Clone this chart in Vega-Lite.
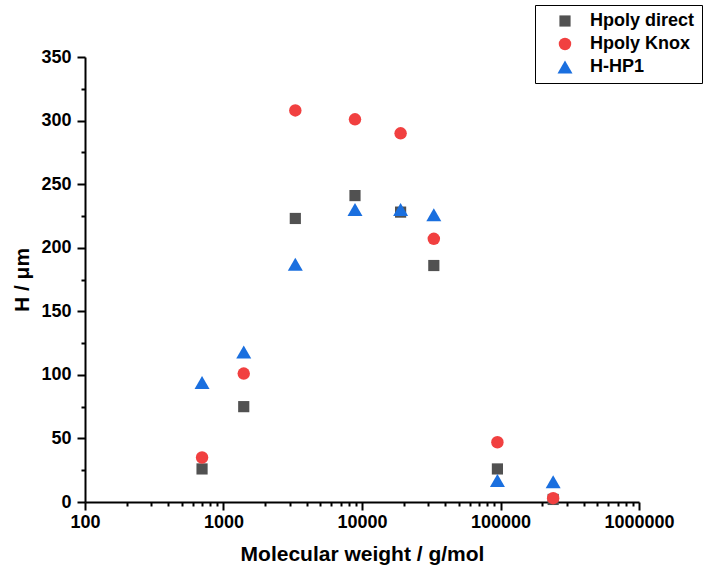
{
  "$schema": "https://vega.github.io/schema/vega-lite/v6.json",
  "width": 554,
  "height": 445,
  "autosize": {"type": "none"},
  "padding": {"left": 85, "top": 57, "right": 68, "bottom": 78},
  "background": "white",
  "data": {
    "values": [
      {"series": "Hpoly direct", "mw": 700, "H": 26},
      {"series": "Hpoly direct", "mw": 1400, "H": 75},
      {"series": "Hpoly direct", "mw": 3300, "H": 223},
      {"series": "Hpoly direct", "mw": 8900, "H": 241},
      {"series": "Hpoly direct", "mw": 19000, "H": 228},
      {"series": "Hpoly direct", "mw": 33000, "H": 186},
      {"series": "Hpoly direct", "mw": 95000, "H": 26},
      {"series": "Hpoly direct", "mw": 240000, "H": 2},
      {"series": "Hpoly Knox", "mw": 700, "H": 35},
      {"series": "Hpoly Knox", "mw": 1400, "H": 101},
      {"series": "Hpoly Knox", "mw": 3300, "H": 308},
      {"series": "Hpoly Knox", "mw": 8900, "H": 301},
      {"series": "Hpoly Knox", "mw": 19000, "H": 290},
      {"series": "Hpoly Knox", "mw": 33000, "H": 207},
      {"series": "Hpoly Knox", "mw": 95000, "H": 47},
      {"series": "Hpoly Knox", "mw": 240000, "H": 3},
      {"series": "H-HP1", "mw": 700, "H": 94},
      {"series": "H-HP1", "mw": 1400, "H": 118},
      {"series": "H-HP1", "mw": 3300, "H": 187},
      {"series": "H-HP1", "mw": 8900, "H": 230},
      {"series": "H-HP1", "mw": 19000, "H": 230},
      {"series": "H-HP1", "mw": 33000, "H": 226},
      {"series": "H-HP1", "mw": 95000, "H": 17},
      {"series": "H-HP1", "mw": 240000, "H": 16}
    ]
  },
  "mark": {"type": "point", "filled": true, "opacity": 1, "strokeWidth": 0},
  "encoding": {
    "x": {
      "field": "mw",
      "type": "quantitative",
      "title": "Molecular weight / g/mol",
      "scale": {"type": "log", "domain": [100, 1000000], "nice": false},
      "axis": {
        "values": [100, 200, 300, 400, 500, 600, 700, 800, 900,
                   1000, 2000, 3000, 4000, 5000, 6000, 7000, 8000, 9000,
                   10000, 20000, 30000, 40000, 50000, 60000, 70000, 80000, 90000,
                   100000, 200000, 300000, 400000, 500000, 600000, 700000, 800000, 900000,
                   1000000],
        "labelExpr": "indexof([100, 1000, 10000, 100000, 1000000], datum.value) >= 0 ? format(datum.value, 'd') : ''",
        "tickSize": {"condition": {"test": "indexof([100, 1000, 10000, 100000, 1000000], datum.value) >= 0", "value": 8}, "value": 4},
        "labelPadding": 3,
        "titlePadding": 12
      }
    },
    "y": {
      "field": "H",
      "type": "quantitative",
      "title": "H / μm",
      "scale": {"domain": [0, 350], "nice": false, "zero": false},
      "axis": {
        "values": [0, 25, 50, 75, 100, 125, 150, 175, 200, 225, 250, 275, 300, 325, 350],
        "labelExpr": "datum.value % 50 === 0 ? format(datum.value, 'd') : ''",
        "tickSize": {"condition": {"test": "datum.value % 50 === 0", "value": 8}, "value": 4},
        "labelPadding": 6,
        "titlePadding": 8
      }
    },
    "color": {
      "field": "series",
      "type": "nominal",
      "scale": {"domain": ["Hpoly direct", "Hpoly Knox", "H-HP1"], "range": ["#515151", "#F14040", "#1A6FDF"]},
      "legend": {
        "title": null,
        "orient": "none",
        "legendX": 450,
        "legendY": -52,
        "strokeColor": "black",
        "fillColor": "white",
        "padding": 7,
        "symbolOffset": 14,
        "labelOffset": 16,
        "rowPadding": 5
      }
    },
    "shape": {
      "field": "series",
      "type": "nominal",
      "scale": {"domain": ["Hpoly direct", "Hpoly Knox", "H-HP1"], "range": ["square", "circle", "triangle-up"]}
    },
    "size": {
      "field": "series",
      "type": "nominal",
      "scale": {"type": "ordinal", "domain": ["Hpoly direct", "Hpoly Knox", "H-HP1"], "range": [125, 155, 225]}
    }
  },
  "config": {
    "view": {"stroke": null},
    "font": "Arial, Liberation Sans, sans-serif",
    "axis": {
      "grid": false,
      "domainColor": "black",
      "domainWidth": 2,
      "tickColor": "black",
      "tickWidth": 2,
      "labelColor": "black",
      "labelFont": "Arial, Liberation Sans, sans-serif",
      "labelFontSize": 18,
      "labelFontWeight": "bold",
      "labelOverlap": false,
      "labelFlush": false,
      "titleColor": "black",
      "titleFont": "Arial, Liberation Sans, sans-serif",
      "titleFontSize": 21,
      "titleFontWeight": "bold"
    },
    "legend": {
      "labelFont": "Arial, Liberation Sans, sans-serif",
      "labelFontSize": 18,
      "labelFontWeight": "bold",
      "labelColor": "black",
      "symbolStrokeWidth": 0,
      "symbolOpacity": 1,
      "labelLimit": 300
    }
  }
}
